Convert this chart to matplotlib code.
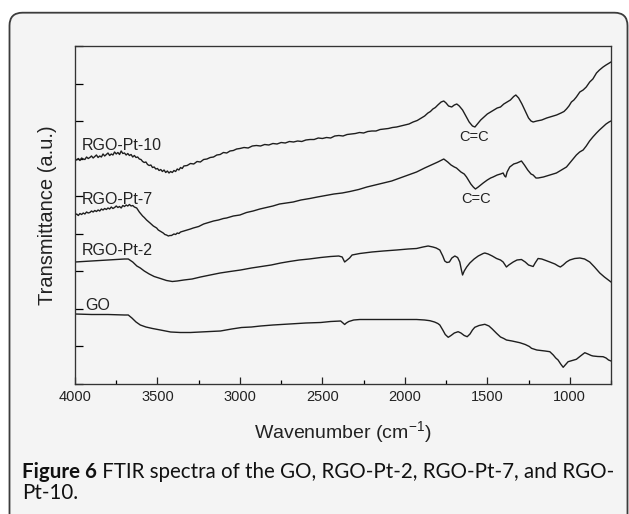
import matplotlib
matplotlib.use("Agg")
import matplotlib.pyplot as plt
from matplotlib.patches import FancyBboxPatch
import matplotlib.transforms as mtransforms
from matplotlib.ticker import MultipleLocator, FixedLocator

plt.rcParams['mathtext.fontset'] = 'custom'
plt.rcParams['mathtext.rm'] = 'Liberation Sans'
plt.rcParams['mathtext.it'] = 'Liberation Sans:italic'

# ---------------- data (wavenumber cm-1, transmittance a.u.) ----------------
pt10_w = [4000, 3990, 3980, 3970, 3960, 3950, 3940, 3930, 3920, 3910, 3900, 3890, 3880, 3870,
          3860, 3850, 3840, 3830, 3820, 3810, 3800, 3790, 3780, 3770, 3760, 3750, 3740, 3730,
          3720, 3710, 3700, 3690, 3680, 3670, 3660, 3650, 3640, 3630, 3620, 3610, 3600, 3590,
          3580, 3570, 3560, 3550, 3540, 3530, 3520, 3510, 3500, 3490, 3480, 3470, 3460, 3450,
          3440, 3430, 3420, 3410, 3400, 3390, 3380, 3370, 3360, 3350, 3340, 3320, 3300, 3280,
          3260, 3240, 3220, 3200, 3180, 3160, 3140, 3120, 3100, 3080, 3060, 3040, 3020, 3000,
          2975, 2950, 2925, 2900, 2875, 2850, 2825, 2800, 2775, 2750, 2725, 2700, 2675, 2650,
          2625, 2600, 2575, 2550, 2525, 2500, 2475, 2450, 2425, 2400, 2375, 2350, 2325, 2300,
          2275, 2250, 2225, 2200, 2175, 2150, 2125, 2100, 2075, 2050, 2025, 2000, 1975, 1950,
          1925, 1900, 1880, 1860, 1845, 1830, 1815, 1800, 1780, 1764, 1750, 1735, 1716, 1700,
          1685, 1670, 1650, 1630, 1610, 1590, 1575, 1560, 1540, 1520, 1500, 1480, 1460, 1440,
          1420, 1400, 1380, 1360, 1340, 1327, 1310, 1290, 1270, 1250, 1235, 1222, 1200, 1170,
          1140, 1110, 1080, 1053, 1035, 1020, 1005, 990, 975, 960, 939, 919, 900, 879,
          860, 838, 820, 798, 780, 760, 750]
pt10_t = [225, 224, 225.5, 223.5, 226, 225, 224.5, 227, 225.5, 226.5, 228, 226, 227.5, 229,
          226.5, 228, 227, 230, 228, 229.5, 231, 228.5, 230, 229, 232, 230, 231.5, 229.5,
          233, 230.5, 231, 229, 230.5, 228.5, 229.5, 227, 228.5, 226.5, 227, 225, 224.5, 222.5,
          221.5, 222, 219.5, 218.5, 219, 216.5, 217, 215, 215.5, 213.5, 214.5, 212.5, 214, 211.5,
          213, 211, 212.5, 211.5, 213.5, 212.5, 215, 214, 216.5, 215.5, 218, 218.5, 220.5, 220,
          222.5, 222, 224.5, 225, 226.5, 227, 229, 229.5, 231.5, 231, 233, 233.5, 235, 235.5,
          236.5, 236, 238, 238.5, 238, 239.5, 239, 240.5, 240, 241.5, 241, 242.5, 242, 243,
          242.5, 244, 244.5, 244.5, 246, 245.5, 246.5, 246, 248, 248.5, 248, 249.5, 250, 250.5,
          251.5, 251, 252.5, 253, 253, 254.5, 255, 255.5, 256.5, 257, 258, 259, 260, 262,
          263.5, 266, 268, 271, 272.5, 275, 276.5, 279, 282, 283, 281, 278, 277, 279,
          280, 278, 274, 268, 262, 258, 257, 260, 264, 267, 270, 272, 274, 276,
          277, 280, 282, 284, 287.5, 289, 286, 280, 273, 266, 263, 262, 263, 264,
          266, 267.5, 269, 271, 272.5, 275, 278, 282, 284, 287, 292, 294, 297, 302,
          305, 311, 314, 317, 319, 321, 322]

pt7_w = [4000, 3990, 3980, 3970, 3960, 3950, 3940, 3930, 3920, 3910, 3900, 3890, 3880, 3870,
         3860, 3850, 3840, 3830, 3820, 3810, 3800, 3790, 3780, 3770, 3760, 3750, 3740, 3730,
         3720, 3710, 3700, 3690, 3680, 3670, 3660, 3650, 3640, 3626, 3610, 3600, 3590, 3580,
         3566, 3555, 3545, 3535, 3525, 3515, 3505, 3495, 3485, 3475, 3465, 3455, 3445, 3434,
         3425, 3415, 3400, 3390, 3380, 3370, 3360, 3340, 3320, 3300, 3283, 3250, 3220, 3190,
         3160, 3130, 3100, 3081, 3040, 3000, 2960, 2920, 2879, 2840, 2800, 2760, 2720, 2677,
         2630, 2576, 2530, 2480, 2430, 2380, 2333, 2280, 2230, 2180, 2131, 2080, 2030, 1980,
         1929, 1880, 1840, 1800, 1764, 1740, 1720, 1700, 1687, 1660, 1640, 1626, 1600, 1585,
         1572, 1555, 1540, 1525, 1500, 1480, 1465, 1440, 1420, 1404, 1395, 1388, 1380, 1364,
         1340, 1320, 1293, 1275, 1255, 1235, 1222, 1205, 1192, 1160, 1120, 1081, 1050, 1020,
         1000, 980, 960, 940, 919, 900, 880, 860, 838, 820, 800, 780, 762, 750]
pt7_t = [169, 170, 168.5, 170.5, 169.5, 171, 170, 172, 171, 171.5, 173, 172, 173.5, 172.5,
         174, 173, 175, 174, 175.5, 174.5, 176, 175, 177, 175.5, 176.5, 178, 176.5, 177.5,
         176, 178.5, 177.5, 179, 178, 179.5, 178, 178.5, 177, 176, 172, 170, 168, 166.5,
         164, 162.5, 161, 159.5, 158, 157, 156, 154, 153, 152, 151, 149.5, 149, 148,
         148.5, 148.5, 150, 149.5, 151, 150.5, 152, 153, 154, 155, 156, 157.5, 160, 161.5,
         163, 164, 165.5, 166, 168, 169, 171.5, 173, 175, 176.5, 178, 180, 181, 182,
         184, 185.5, 187, 188.5, 190, 191, 192.5, 194.5, 197, 199, 201, 203, 206, 209,
         212, 216, 219, 222, 225, 222, 219, 217, 216, 212, 210, 207, 200, 197,
         195, 197, 199, 201, 204, 206, 207, 209, 210, 211, 208, 207, 212, 217,
         220, 221, 223, 219, 214, 210, 209, 206, 206, 207, 209, 211, 214, 217,
         221, 225, 229, 232, 234, 238, 243, 247, 251, 254, 257, 260, 262, 263]

pt2_w = [4000, 3900, 3800, 3700, 3677, 3650, 3625, 3604, 3580, 3550, 3520, 3482, 3445, 3410,
         3380, 3340, 3290, 3239, 3180, 3120, 3060, 2996, 2930, 2870, 2810, 2753, 2700, 2640,
         2580, 2510, 2450, 2401, 2380, 2365, 2350, 2335, 2320, 2273, 2200, 2131, 2050, 1980,
         1929, 1890, 1859, 1830, 1810, 1788, 1770, 1758, 1745, 1730, 1715, 1697, 1680, 1667,
         1657, 1650, 1640, 1625, 1606, 1580, 1555, 1525, 1515, 1495, 1470, 1444, 1420, 1404,
         1392, 1384, 1370, 1343, 1320, 1293, 1270, 1250, 1232, 1222, 1210, 1192, 1170, 1145,
         1121, 1090, 1070, 1057, 1040, 1020, 1000, 970, 939, 910, 879, 850, 818, 790, 758, 750]
pt2_t = [122, 123, 124, 125, 125, 122, 118, 116, 113, 110, 107.5, 105.5, 103.5, 102.5,
         103, 104, 105, 107, 109, 111, 112.5, 114, 116, 117.5, 119, 121, 122.5, 124,
         125, 126.5, 127.5, 128, 127, 122, 124, 126, 129, 130.5, 132, 133, 134, 135,
         135.5, 137, 138, 137, 136, 134, 128, 123, 121.5, 122, 126, 128, 126.5, 122,
         114, 109, 113, 117, 121, 125, 128, 130.5, 131, 130, 128, 125.5, 124, 122,
         119, 117, 119, 122, 124, 124.5, 122, 119, 118, 117.5, 121, 125.5, 125, 123.5,
         122, 120, 118, 117, 119, 122, 124, 125.5, 126, 125, 122, 117, 111, 107, 103, 102]

go_w = [4000, 3900, 3800, 3700, 3677, 3655, 3630, 3604, 3570, 3530, 3482, 3420, 3361, 3300,
        3240, 3180, 3118, 3050, 2990, 2930, 2875, 2800, 2700, 2600, 2510, 2450, 2389, 2375,
        2365, 2355, 2340, 2310, 2273, 2200, 2100, 2000, 1929, 1880, 1848, 1820, 1800, 1788,
        1770, 1755, 1737, 1720, 1700, 1677, 1660, 1640, 1622, 1605, 1590, 1576, 1550, 1515,
        1490, 1470, 1444, 1420, 1400, 1384, 1350, 1303, 1270, 1245, 1232, 1200, 1150, 1121,
        1100, 1085, 1071, 1055, 1040, 1025, 1010, 985, 960, 935, 909, 890, 870, 859, 830,
        798, 780, 765, 750]
go_t = [70, 69.5, 69.5, 69, 69, 66, 62, 59, 57, 55.5, 54, 52, 51.5, 51.5,
        52, 52.5, 53, 55, 56.5, 57, 58, 59, 60, 61, 61.5, 62.5, 63, 61,
        59.5, 61, 62.5, 64, 64.5, 64.5, 64.5, 64.5, 64.5, 64, 63.3, 62, 60.5, 59,
        54, 49.5, 46.7, 48.5, 51, 52.3, 51, 48.5, 47.3, 50, 54, 56.7, 58.5, 59.7,
        58, 55, 50.7, 47, 45.5, 44, 43, 41.3, 39.5, 37.5, 35.7, 34, 33, 32.3,
        29, 26, 24, 20, 16.7, 19.5, 22.3, 23.5, 24.7, 28, 31.3, 30, 28.5, 28, 27.5,
        27.3, 26, 24, 23]

series = [(pt10_w, pt10_t), (pt7_w, pt7_t), (pt2_w, pt2_t), (go_w, go_t)]
names = ["RGO-Pt-10", "RGO-Pt-7", "RGO-Pt-2", "GO"]
name_pos = [(3958, 239), (3960, 184), (3960, 133.3), (3939, 78)]
cc_pos = [(1578, 247), (1570, 185)]
xticks = [4000, 3500, 3000, 2500, 2000, 1500, 1000]

# ---------------- figure ----------------
W, H = 629, 514
fig = plt.figure(figsize=(W / 100, H / 100), dpi=100)
fig.patch.set_facecolor('white')
ident = mtransforms.IdentityTransform()

box = FancyBboxPatch((9.5, -30), 618, (H - 12.7) + 30,
                     boxstyle="round,pad=0,rounding_size=13",
                     transform=ident, facecolor='#f4f4f4', edgecolor='#3c3c3c',
                     linewidth=1.3, zorder=-5)
fig.patches.append(box)

ax = fig.add_axes([75 / W, (H - 384) / H, 536 / W, 338 / H])
ax.set_facecolor('none')
for w, t in series:
    ax.plot(w, t, color='#1e1e1e', lw=1.0)

ax.set_xlim(4000, 750)
ax.set_ylim(0, 338)
ax.xaxis.set_major_locator(FixedLocator(xticks))
ax.xaxis.set_minor_locator(MultipleLocator(250))
ax.yaxis.set_major_locator(FixedLocator([338 * i / 9 for i in range(10)]))
ax.set_yticklabels([])
ax.tick_params(axis='x', which='major', direction='in', length=4.8, width=0.9,
               labelsize=10.5, pad=4, colors='#222222', top=False)
ax.tick_params(axis='x', which='minor', direction='in', length=2.9, width=0.9, top=False)
ax.tick_params(axis='y', which='major', direction='in', length=5.5, width=0.9, right=False)
for lab in ax.get_xticklabels():
    lab.set_fontfamily('Liberation Sans')
for sp in ax.spines.values():
    sp.set_linewidth(0.95)
    sp.set_color('#333333')

for n, (x, y) in zip(names, name_pos):
    ax.text(x, y, n, fontsize=11.5, family='Liberation Sans', ha='left', va='center',
            color='#222222')
for x, y in cc_pos:
    ax.text(x, y, "C=C", fontsize=10.5, family='Liberation Sans', ha='center', va='center',
            color='#222222')

ax.set_xlabel("Wavenumber (cm$^{-1}$)", fontsize=14, family='Liberation Sans',
              color='#222222', labelpad=11)
fig.text(48 / W, (H - 215) / H, "Transmittance (a.u.)", rotation=90, fontsize=14.5,
         family='Liberation Sans', ha='center', va='center', color='#222222')

# ---------------- caption ----------------
cap_font = 'Lato'
renderer = fig.canvas.get_renderer()
target_w = 590.0
fs = 12.0
t1 = fig.text(22 / W, (H - 478) / H, "Figure 6", fontsize=fs, fontweight='bold',
              family=cap_font, ha='left', va='baseline', color='#111111')
t2 = fig.text(0, (H - 478) / H, " FTIR spectra of the GO, RGO-Pt-2, RGO-Pt-7, and RGO-",
              fontsize=fs, family=cap_font, ha='left', va='baseline', color='#111111')


def layout(size):
    t1.set_fontsize(size)
    t2.set_fontsize(size)
    b1 = t1.get_window_extent(renderer)
    t2.set_x(b1.x1 / W)
    b2 = t2.get_window_extent(renderer)
    return b2.x1 - b1.x0


wid = layout(fs)
fs = fs * target_w / wid
layout(fs)
fig.text(22 / W, (H - 499) / H, "Pt-10.", fontsize=fs, family=cap_font,
         ha='left', va='baseline', color='#111111')

fig.savefig("out.png", dpi=100, facecolor='white')
